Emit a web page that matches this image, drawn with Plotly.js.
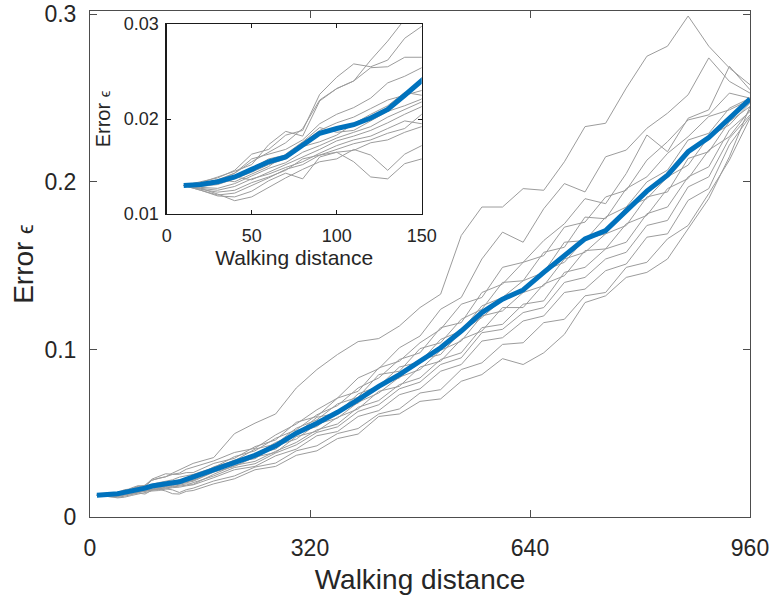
<!DOCTYPE html>
<html><head><meta charset="utf-8">
<script src="https://cdn.plot.ly/plotly-3.0.1.min.js"></script>
<style>html,body{margin:0;padding:0;background:#fff}#chart{width:774px;height:601px}</style>
</head><body><div id="chart"></div>
<script>
// Walking distance samples (fine steps in the first 150, coarser afterwards)
const distance = [10,20,30,40,50,60,70,80,90,100,110,120,130,140,150,
  180,210,240,270,300,330,360,390,420,450,480,510,540,570,600,630,660,690,720,750,780,810,840,870,900,930,960];

// Individual runs (gray lines)
const run01 = [0.013,0.0132,0.0136,0.0143,0.0155,0.0165,0.0175,0.019,0.022,0.0232,0.024,0.0262,0.0282,0.0305,0.032,
  0.0355,0.0497,0.056,0.0615,0.077,0.088,0.097,0.1047,0.1065,0.114,0.125,0.133,0.168,0.185,0.185,0.196,0.195,0.212,0.233,0.235,0.256,0.275,0.281,0.299,0.281,0.268,0.258];
const run02 = [0.013,0.0134,0.0138,0.0146,0.0163,0.0168,0.0183,0.0188,0.0226,0.0244,0.0258,0.0255,0.0262,0.0285,0.0298,
  0.0335,0.0385,0.041,0.049,0.0555,0.064,0.071,0.083,0.0885,0.101,0.108,0.124,0.131,0.154,0.170,0.164,0.184,0.199,0.194,0.215,0.219,0.232,0.241,0.252,0.274,0.26,0.253];
const run03 = [0.013,0.0133,0.0139,0.0145,0.0152,0.0173,0.0187,0.0182,0.0219,0.0232,0.024,0.0254,0.0255,0.0265,0.0265,
  0.032,0.035,0.042,0.046,0.0565,0.06,0.071,0.075,0.089,0.093,0.104,0.112,0.127,0.131,0.149,0.152,0.165,0.175,0.19,0.187,0.205,0.228,0.218,0.238,0.243,0.269,0.255];
const run04 = [0.013,0.0132,0.0135,0.0143,0.0158,0.0163,0.0168,0.0178,0.0195,0.0205,0.0212,0.0222,0.0238,0.0245,0.0254,
  0.0295,0.036,0.0395,0.047,0.052,0.061,0.0665,0.077,0.083,0.094,0.098,0.113,0.116,0.134,0.139,0.152,0.156,0.173,0.176,0.191,0.195,0.213,0.224,0.237,0.24,0.253,0.25];
const run05 = [0.013,0.0131,0.0133,0.0138,0.0148,0.0158,0.0162,0.0175,0.0188,0.0196,0.0202,0.0211,0.022,0.0225,0.023,
  0.03,0.0335,0.0405,0.0435,0.053,0.058,0.0675,0.0715,0.085,0.087,0.1005,0.104,0.118,0.124,0.14,0.141,0.158,0.161,0.179,0.178,0.196,0.203,0.217,0.227,0.239,0.243,0.249];
const run06 = [0.013,0.0129,0.0131,0.0137,0.0144,0.0152,0.0158,0.0171,0.0176,0.0183,0.0195,0.0205,0.0214,0.0228,0.0225,
  0.0285,0.034,0.0372,0.0445,0.0495,0.0595,0.062,0.0735,0.078,0.0895,0.0925,0.106,0.111,0.126,0.131,0.141,0.146,0.164,0.165,0.179,0.185,0.2,0.207,0.225,0.229,0.244,0.25];
const run07 = [0.013,0.0132,0.0136,0.0134,0.0142,0.015,0.0163,0.0176,0.0191,0.0186,0.0188,0.0198,0.0208,0.0214,0.0221,
  0.029,0.0318,0.0378,0.0405,0.0502,0.054,0.063,0.068,0.0785,0.083,0.094,0.097,0.111,0.119,0.13,0.134,0.147,0.152,0.166,0.169,0.185,0.19,0.203,0.21,0.227,0.234,0.247];
const run08 = [0.013,0.0128,0.0127,0.0132,0.014,0.0148,0.0154,0.0165,0.0172,0.018,0.0186,0.0192,0.0202,0.021,0.0218,
  0.027,0.0328,0.0348,0.0425,0.0465,0.0555,0.059,0.0685,0.074,0.0835,0.088,0.0995,0.105,0.12,0.123,0.134,0.138,0.154,0.158,0.169,0.174,0.191,0.194,0.214,0.218,0.236,0.245];
const run09 = [0.013,0.013,0.0132,0.0139,0.0136,0.0144,0.0152,0.016,0.0168,0.0177,0.0182,0.0188,0.0196,0.0205,0.0213,
  0.0268,0.0302,0.0358,0.0385,0.048,0.0512,0.0595,0.0645,0.075,0.078,0.0895,0.093,0.106,0.111,0.125,0.125,0.139,0.144,0.159,0.16,0.175,0.18,0.196,0.202,0.219,0.227,0.243];
const run10 = [0.013,0.0127,0.0125,0.0129,0.0137,0.0142,0.0149,0.0155,0.0164,0.0172,0.0178,0.0182,0.019,0.0198,0.0195,
  0.0255,0.0308,0.0332,0.0392,0.0445,0.052,0.0555,0.0655,0.0695,0.079,0.083,0.094,0.098,0.113,0.115,0.127,0.129,0.146,0.149,0.16,0.164,0.181,0.185,0.203,0.209,0.231,0.242];
const run11 = [0.013,0.0126,0.0123,0.0125,0.0133,0.0139,0.0146,0.0158,0.0162,0.0168,0.0174,0.0178,0.0185,0.019,0.0205,
  0.0245,0.0295,0.0318,0.0382,0.043,0.0505,0.0538,0.063,0.067,0.0765,0.0805,0.091,0.095,0.11,0.112,0.122,0.125,0.14,0.143,0.154,0.158,0.174,0.177,0.197,0.203,0.226,0.24];
const run12 = [0.013,0.0125,0.0119,0.0118,0.0124,0.0135,0.0143,0.0137,0.016,0.0165,0.0167,0.0175,0.0178,0.0186,0.0192,
  0.0235,0.0282,0.0302,0.0365,0.0405,0.0485,0.051,0.06,0.0635,0.073,0.0765,0.087,0.091,0.105,0.107,0.117,0.12,0.134,0.136,0.147,0.151,0.167,0.169,0.189,0.196,0.222,0.239];
const run13 = [0.013,0.0127,0.0121,0.0114,0.0118,0.0128,0.0138,0.0147,0.0155,0.0158,0.0168,0.0162,0.0146,0.0163,0.0172,
  0.0215,0.0245,0.0298,0.0322,0.0395,0.0425,0.0498,0.0528,0.0615,0.0645,0.074,0.076,0.088,0.092,0.103,0.104,0.116,0.118,0.132,0.134,0.149,0.152,0.166,0.174,0.193,0.213,0.238];
const run14 = [0.013,0.0125,0.012,0.0122,0.013,0.0138,0.0147,0.0152,0.0162,0.0165,0.0155,0.0139,0.0137,0.0153,0.0158,
  0.0198,0.0228,0.0282,0.0302,0.0368,0.0395,0.0468,0.0495,0.06,0.0615,0.069,0.0705,0.081,0.085,0.0945,0.091,0.098,0.109,0.128,0.132,0.143,0.146,0.154,0.172,0.19,0.215,0.245];

// Mean error (blue line)
const meanError = [0.013,0.0131,0.0134,0.0139,0.0147,0.0155,0.016,0.0172,0.0185,0.019,0.0194,0.0201,0.021,0.0225,0.024,
  0.0285,0.033,0.0368,0.0425,0.05,0.056,0.0625,0.07,0.078,0.085,0.093,0.101,0.111,0.122,0.13,0.1355,0.146,0.156,0.166,0.171,0.183,0.1945,0.204,0.218,0.2265,0.238,0.2495];

// Tick labels
const mainXTicks = [0,320,640,960];
const mainYTicks = [0,0.1,0.2,0.3];
const mainYTickText = ['0','0.1','0.2','0.3'];
const insetXTicks = [0,50,100,150];
const insetYTicks = [0.01,0.02,0.03];
const insetYTickText = ['0.01','0.02','0.03'];

const runs = [run01,run02,run03,run04,run05,run06,run07,run08,run09,run10,run11,run12,run13,run14];

const FONT = 'Liberation Sans, Arial, Helvetica, sans-serif';
const TXT = '#262626';
const GRAY = '#9c9c9c';
const BLUE = '#0072BD';

const traces = [];
runs.forEach(r => traces.push({x: distance, y: r, xaxis: 'x', yaxis: 'y', type: 'scatter', mode: 'lines',
  line: {color: GRAY, width: 1}, hoverinfo: 'skip', showlegend: false}));
traces.push({x: distance, y: meanError, xaxis: 'x', yaxis: 'y', type: 'scatter', mode: 'lines',
  line: {color: BLUE, width: 5}, hoverinfo: 'skip', showlegend: false});
runs.forEach(r => traces.push({x: distance, y: r, xaxis: 'x2', yaxis: 'y2', type: 'scatter', mode: 'lines',
  line: {color: GRAY, width: 1}, hoverinfo: 'skip', showlegend: false}));
traces.push({x: distance, y: meanError, xaxis: 'x2', yaxis: 'y2', type: 'scatter', mode: 'lines',
  line: {color: BLUE, width: 5}, hoverinfo: 'skip', showlegend: false});

const mainAxisCommon = {
  ticks: 'inside', ticklen: 7, tickwidth: 1, tickcolor: '#4d4d4d',
  showline: true, linecolor: '#4d4d4d', linewidth: 1, mirror: 'ticks',
  showgrid: false, zeroline: false, automargin: false, ticklabeloverflow: 'allow',
  tickfont: {family: FONT, size: 23, color: TXT}
};
const insetAxisCommon = {
  ticks: 'inside', ticklen: 4, tickwidth: 1, tickcolor: '#1a1a1a',
  showline: true, linecolor: '#1a1a1a', linewidth: 1.2, mirror: 'ticks',
  showgrid: false, zeroline: false, automargin: false, ticklabeloverflow: 'allow',
  tickfont: {family: FONT, size: 18, color: TXT}
};

const layout = {
  width: 774, height: 601,
  margin: {l: 90, r: 24, t: 11, b: 84, pad: 0},
  paper_bgcolor: '#ffffff', plot_bgcolor: '#ffffff',
  showlegend: false,
  font: {family: FONT, color: TXT},
  xaxis: Object.assign({}, mainAxisCommon, {
    domain: [0, 1], anchor: 'y', range: [0, 960],
    tickmode: 'array', tickvals: mainXTicks, ticktext: mainXTicks.map(String),
    ticklabelstandoff: 10,
    title: {text: 'Walking distance', font: {family: FONT, size: 28, color: TXT}, standoff: 9}
  }),
  yaxis: Object.assign({}, mainAxisCommon, {
    domain: [0, 1], anchor: 'x', range: [0, 0.302],
    tickmode: 'array', tickvals: mainYTicks, ticktext: mainYTickText,
    ticklabelstandoff: 8,
    title: {text: 'Error <span style="font-size:22px">ϵ</span>', font: {family: FONT, size: 28, color: TXT}, standoff: 2}
  }),
  xaxis2: Object.assign({}, insetAxisCommon, {
    domain: [0.1162, 0.5026], anchor: 'y2', range: [0, 150],
    tickmode: 'array', tickvals: insetXTicks, ticktext: insetXTicks.map(String),
    ticklabelstandoff: 5,
    title: {text: 'Walking distance', font: {family: FONT, size: 21, color: TXT}, standoff: 0}
  }),
  yaxis2: Object.assign({}, insetAxisCommon, {
    domain: [0.5988, 0.9743], anchor: 'x2', range: [0.01, 0.03],
    tickmode: 'array', tickvals: insetYTicks, ticktext: insetYTickText,
    ticklabelstandoff: 3,
    title: {text: 'Error <span style="font-size:15px">ϵ</span>', font: {family: FONT, size: 20, color: TXT}, standoff: 7}
  })
};

Plotly.newPlot('chart', traces, layout, {staticPlot: true, displayModeBar: false});
</script>
</body></html>
